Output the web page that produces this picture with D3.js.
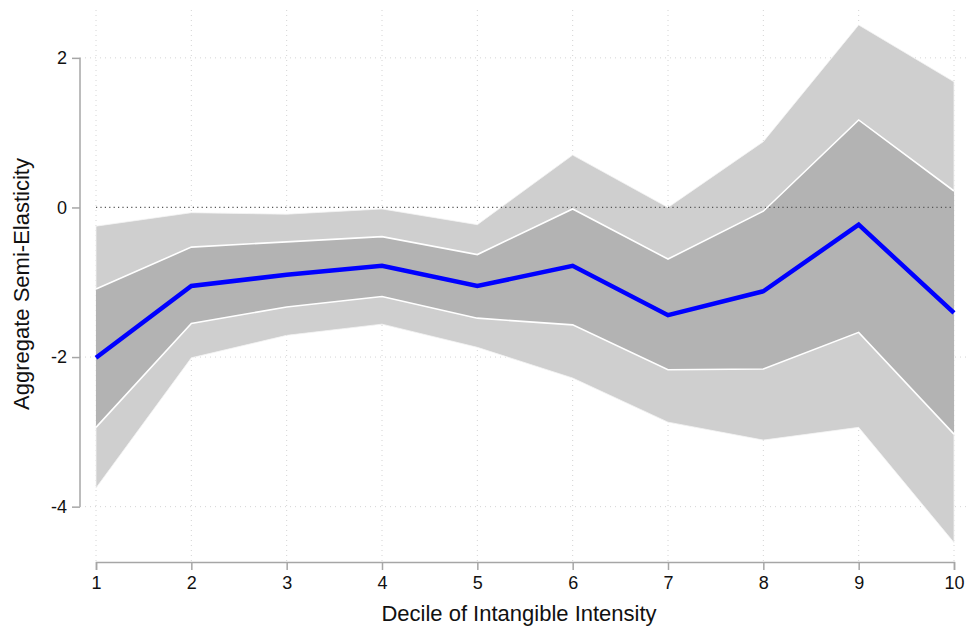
<!DOCTYPE html>
<html>
<head>
<meta charset="utf-8">
<script src="https://cdn.jsdelivr.net/npm/d3@7"></script>
<style>
  html, body { margin: 0; padding: 0; background: #fff; }
  svg { display: block; font-family: "Liberation Sans", Arial, Helvetica, sans-serif; }
</style>
</head>
<body>
<svg id="chart" width="968" height="627"></svg>
<script>
// Decile of intangible intensity
const deciles = [1, 2, 3, 4, 5, 6, 7, 8, 9, 10];
// Point estimate of the aggregate semi-elasticity
const estimate = [-2.01, -1.05, -0.90, -0.78, -1.05, -0.78, -1.44, -1.12, -0.23, -1.41];
// Inner confidence band
const innerLower = [-2.94, -1.55, -1.33, -1.19, -1.48, -1.57, -2.17, -2.16, -1.67, -3.03];
const innerUpper = [-1.09, -0.53, -0.46, -0.39, -0.63, -0.02, -0.69, -0.05, 1.17, 0.22];
// Outer confidence band
const outerLower = [-3.75, -2.01, -1.71, -1.56, -1.87, -2.28, -2.87, -3.11, -2.94, -4.48];
const outerUpper = [-0.25, -0.07, -0.09, -0.02, -0.23, 0.70, 0.00, 0.88, 2.44, 1.68];
// Axis ticks
const yTicks = [-4, -2, 0, 2];
const xTicks = deciles;

const svg = d3.select("#chart");
const plotLeft = 80, plotRight = 968, plotTop = 10, plotBottom = 562;

const x = d3.scaleLinear().domain([1, 10]).range([96, 954]);
const y = d3.scaleLinear().domain([-4.74, 2.64]).range([plotBottom, plotTop]);

const rows = deciles.map((d, i) => ({
  d, est: estimate[i],
  il: innerLower[i], iu: innerUpper[i],
  ol: outerLower[i], ou: outerUpper[i]
}));

// Gridlines
const grid = svg.append("g").attr("class", "grid");
grid.selectAll("line.v").data(xTicks).join("line")
  .attr("x1", d => x(d)).attr("x2", d => x(d))
  .attr("y1", plotTop).attr("y2", plotBottom)
  .attr("stroke", "#d4d4d4").attr("stroke-width", 1)
  .attr("stroke-dasharray", "1,4");
grid.selectAll("line.h").data(yTicks.filter(t => t !== 0)).join("line")
  .attr("x1", plotLeft).attr("x2", plotRight)
  .attr("y1", d => y(d)).attr("y2", d => y(d))
  .attr("stroke", "#d4d4d4").attr("stroke-width", 1)
  .attr("stroke-dasharray", "1,4");

// Confidence bands
const outerArea = d3.area().x(r => x(r.d)).y0(r => y(r.ol)).y1(r => y(r.ou));
const innerArea = d3.area().x(r => x(r.d)).y0(r => y(r.il)).y1(r => y(r.iu));

svg.append("path").datum(rows).attr("d", outerArea)
  .attr("fill", "#cfcfcf").attr("stroke", "#f4f4f4").attr("stroke-width", 0.8);
svg.append("path").datum(rows).attr("d", innerArea)
  .attr("fill", "#b3b3b3");
// White edges of the inner band
const edge = key => d3.line().x(r => x(r.d)).y(r => y(r[key]));
["il", "iu"].forEach(k => {
  svg.append("path").datum(rows).attr("d", edge(k))
    .attr("fill", "none").attr("stroke", "#ffffff").attr("stroke-width", 1.6);
});

// Zero reference line
svg.append("line")
  .attr("x1", x(1)).attr("x2", x(10))
  .attr("y1", y(0)).attr("y2", y(0))
  .attr("stroke", "#555").attr("stroke-width", 1.2)
  .attr("stroke-dasharray", "1.2,3.2");

// Point estimate line
svg.append("path").datum(rows)
  .attr("d", d3.line().x(r => x(r.d)).y(r => y(r.est)))
  .attr("fill", "none").attr("stroke", "#0000ff")
  .attr("stroke-width", 4.5).attr("stroke-linejoin", "miter");

// Y axis
const yAxis = svg.append("g").attr("transform", `translate(${plotLeft},0)`)
  .call(d3.axisLeft(y).tickValues(yTicks).tickSize(8).tickPadding(5).tickFormat(d => String(d)));
yAxis.select(".domain").attr("d", `M-0,${y(2)}V${y(-4)}`);

// X axis
const xAxis = svg.append("g").attr("transform", `translate(0,${plotBottom})`)
  .call(d3.axisBottom(x).tickValues(xTicks).tickSize(8).tickPadding(6).tickFormat(d => String(d)));

[yAxis, xAxis].forEach(a => {
  a.select(".domain").attr("stroke", "#a6a6a6").attr("stroke-width", 1.5);
  a.selectAll(".tick line").attr("stroke", "#a6a6a6").attr("stroke-width", 1.5);
  a.selectAll(".tick text").attr("fill", "#111").style("font-size", "18px")
    .style("font-family", "'Liberation Sans', Arial, Helvetica, sans-serif");
});

// Axis titles
svg.append("text")
  .attr("x", 519).attr("y", 621)
  .attr("text-anchor", "middle")
  .style("font-size", "22px").attr("fill", "#111")
  .text("Decile of Intangible Intensity");

svg.append("text")
  .attr("transform", `translate(29,284) rotate(-90)`)
  .attr("text-anchor", "middle")
  .style("font-size", "22px").attr("fill", "#111")
  .text("Aggregate Semi-Elasticity");
</script>
</body>
</html>
